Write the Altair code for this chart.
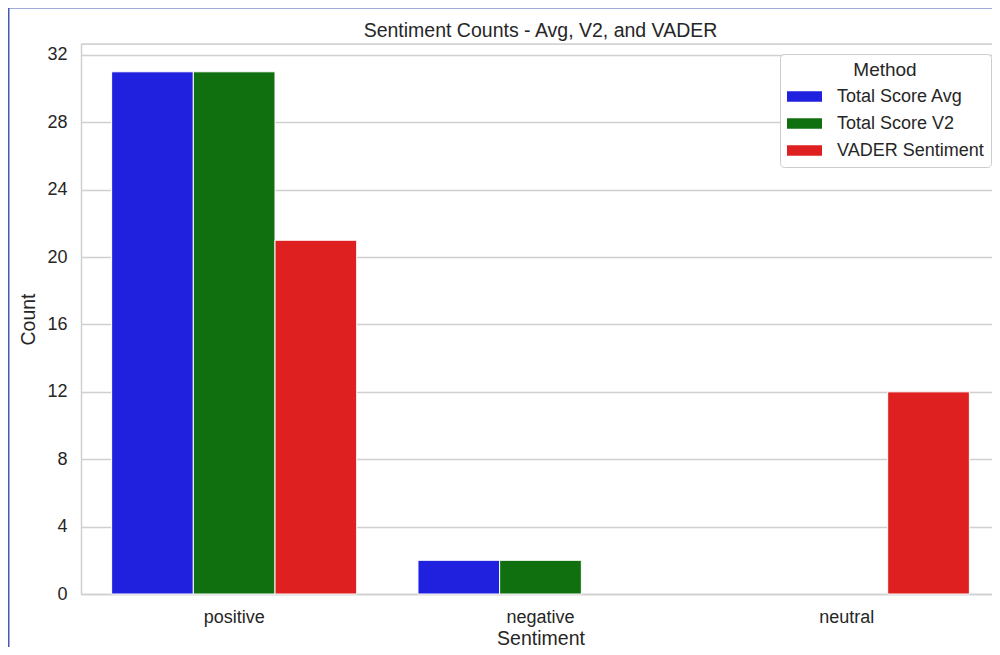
import altair as alt
import pandas as pd

sentiments = ["positive", "negative", "neutral"]
methods = ["Total Score Avg", "Total Score V2", "VADER Sentiment"]
avg_counts = [31, 2, 0]
v2_counts = [31, 2, 0]
vader_counts = [21, 0, 12]
colors = ["#2020df", "#107010", "#df2020"]
y_ticks = [0, 4, 8, 12, 16, 20, 24, 28, 32]
chart_title = "Sentiment Counts - Avg, V2, and VADER"

rows = []
for m, vals in zip(methods, [avg_counts, v2_counts, vader_counts]):
    for s, v in zip(sentiments, vals):
        rows.append({"Sentiment": s, "Method": m, "Count": v})
df = pd.DataFrame(rows)
deco = pd.DataFrame({"label": [chart_title]})

W_FULL, W, H = 919, 911, 550
FONT = "Liberation Sans"
TXT = "#262626"
GRID = "#d0d0d0"
FRAME = "#4558b8"

bars = alt.Chart(df).transform_filter("datum.Count > 0").mark_bar(stroke="white", strokeWidth=1).encode(
    x=alt.X(
        "Sentiment:N",
        sort=sentiments,
        scale=alt.Scale(domain=sentiments, paddingInner=0.2, paddingOuter=0.1, range=[0, W_FULL]),
        axis=alt.Axis(labelAngle=0, ticks=False, domain=True, domainColor=GRID, domainWidth=1.5,
                      grid=False, labelPadding=14, titlePadding=3,
                      labelFontSize=18, titleFontSize=19.5, titleFontWeight="normal",
                      labelFont=FONT, titleFont=FONT, labelColor=TXT, titleColor=TXT),
    ),
    xOffset=alt.XOffset("Method:N", sort=methods,
                        scale=alt.Scale(domain=methods, paddingInner=0, paddingOuter=0)),
    y=alt.Y(
        "Count:Q",
        scale=alt.Scale(domain=[0, 32.65], nice=False, zero=True),
        axis=alt.Axis(values=y_ticks, ticks=False, domain=True, domainColor=GRID, domainWidth=1.5,
                      grid=True, gridColor=GRID, gridWidth=1.3,
                      labelPadding=14, titlePadding=8,
                      labelFontSize=18, titleFontSize=19.5, titleFontWeight="normal",
                      labelFont=FONT, titleFont=FONT, labelColor=TXT, titleColor=TXT),
    ),
    color=alt.Color(
        "Method:N",
        sort=methods,
        scale=alt.Scale(domain=methods, range=colors),
        legend=alt.Legend(
            title="Method", orient="none", legendX=699, legendY=10,
            titleFontSize=19, titleFontWeight="normal", titleColor=TXT,
            titleAnchor="middle", titleFont=FONT, titlePadding=-1,
            labelFontSize=18, labelColor=TXT, labelFont=FONT,
            labelOffset=15,
            symbolType="M-1,-0.3L1,-0.3L1,0.3L-1,0.3Z",
            symbolSize=1225, symbolStrokeWidth=0, symbolOpacity=1,
            rowPadding=-1, padding=7,
            fillColor="white", strokeColor="#cccccc", cornerRadius=4,
        ),
    ),
)

base = alt.Chart(deco)

top_spine = base.mark_rule(color=GRID, strokeWidth=1.5).encode(
    x=alt.value(0), x2=alt.value(W_FULL), y=alt.value(0)
)

title_text = base.mark_text(
    font=FONT, fontSize=19.5, color=TXT, align="center", baseline="middle"
).encode(
    x=alt.value(W_FULL / 2), y=alt.value(-13.5), text="label:N"
)

frame_left = base.mark_rule(color=FRAME, strokeWidth=2).encode(
    x=alt.value(-72.5), y=alt.value(-37), y2=alt.value(H + 60)
)
frame_top = base.mark_rule(color=FRAME, strokeWidth=2).encode(
    x=alt.value(-73.5), x2=alt.value(W_FULL + 20), y=alt.value(-36.5)
)

chart = alt.layer(top_spine, bars, title_text, frame_left, frame_top).properties(
    width=W, height=H,
    autosize=alt.AutoSizeParams(type="none"),
    padding={"left": 73, "top": 36, "right": 0, "bottom": 53},
).configure_view(
    stroke=None
).configure(background="white")

chart.save("out.html", embed_options={"renderer": "svg", "actions": False})
